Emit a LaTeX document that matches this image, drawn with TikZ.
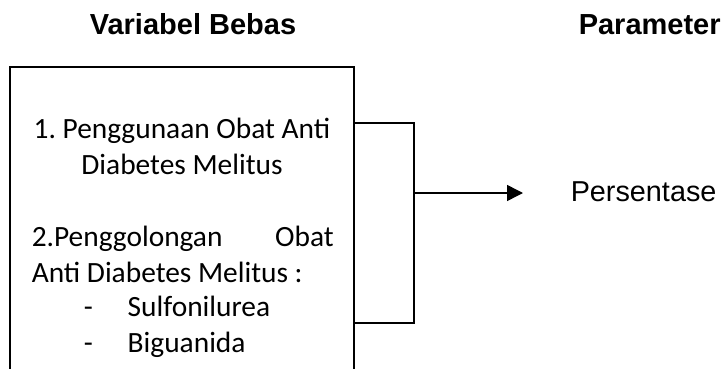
\documentclass[tikz,border=0pt]{standalone}
\usepackage{fontspec}
\setmainfont{Carlito}
\newfontfamily\arialfont{Liberation Sans}
\usetikzlibrary{arrows.meta}
\frenchspacing

\begin{document}
\begin{tikzpicture}[x=0.5pt, y=-0.5pt, line width=0.75pt]
\tikzset{title/.style={inner sep=0pt, font=\arialfont\bfseries\fontsize{14.5}{17}\selectfont},
  boxtext/.style={inner sep=0pt, font=\fontsize{14.7}{17.7}\selectfont}}
\useasboundingbox (0,0) rectangle (722,369);
% headings
\node [title, anchor=base] (varbebas) at (193, 35) {Variabel Bebas};
\node [title, anchor=base west] (param) at (578, 35) {Parameter};
% box with the independent variables
\draw (10, 400) |- (354, 67) -- (354, 400);
\node [boxtext, align=center, anchor=base] (item1) at (182, 174) {1. Penggunaan Obat Anti\\Diabetes Melitus};
\node [boxtext, align=left, anchor=base west] (item2) at (31, 282) {\makebox[151pt][l]{2.Penggolongan\hfill Obat}\\Anti Diabetes Melitus :};
\node [boxtext, align=left, anchor=base west] (golongan) at (83, 352) {\makebox[22pt][l]{-}Sulfonilurea\\\makebox[22pt][l]{-}Biguanida};
% bracket and arrow
\coordinate (b1) at (354, 123);
\coordinate (b2) at (354, 323);
\coordinate (mid) at (414, 193);
\node [inner sep=0pt, anchor=base west, font=\arialfont\fontsize{14.4}{17}\selectfont] (persen) at (570, 201) {Persentase};
\draw (b1) -| (mid) |- (b2);
\draw [-{Triangle[length=8pt,width=8pt]}] (mid) -- (523, 193);
\end{tikzpicture}
\end{document}
